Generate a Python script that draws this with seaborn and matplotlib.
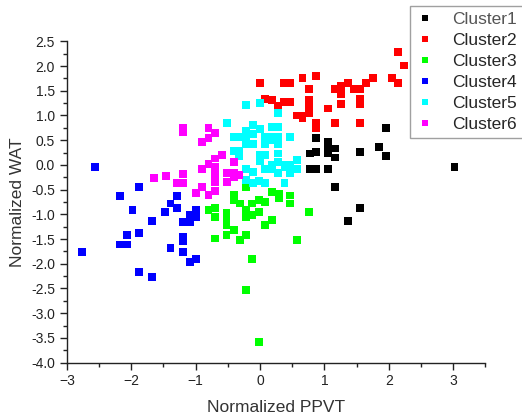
import matplotlib
matplotlib.use("Agg")
import matplotlib.pyplot as plt
from matplotlib.ticker import MultipleLocator
import pandas as pd
import seaborn as sns

# cluster points (Normalized PPVT, Normalized WAT)
cluster1_x = [0.87, 0.77, 0.87, 1.06, 1.06, 1.06, 1.16, 1.16, 0.77, 0.87, 1.06, 1.16,
              1.55, 1.85, 1.95, 1.95, 3.02, 1.55, 1.36]
cluster1_y = [0.55, 0.23, 0.26, 0.46, 0.36, 0.23, 0.33, 0.15, -0.09, -0.09, -0.09, -0.45,
              0.26, 0.36, 0.75, 0.18, -0.05, -0.88, -1.13]

cluster2_x = [0.0, 0.08, 0.18, 0.28, 0.37, 0.47, 0.37, 0.47, 0.66, 0.87, 0.76, 0.76,
              0.76, 0.76, 0.57, 0.66, 0.66, 0.87, 0.87, 1.06, 1.16, 1.16, 1.26, 1.26,
              1.26, 1.36, 1.46, 1.55, 1.55, 1.55, 1.55, 1.65, 1.75, 2.05, 2.14, 2.14, 2.24]
cluster2_y = [1.65, 1.34, 1.31, 1.19, 1.27, 1.27, 1.65, 1.65, 1.75, 1.80, 1.54, 1.31,
              1.19, 1.04, 1.00, 1.00, 0.94, 0.85, 0.75, 1.14, 0.85, 1.54, 1.60, 1.44,
              1.24, 1.65, 1.54, 1.54, 1.34, 1.24, 0.85, 1.65, 1.75, 1.75, 1.65, 2.28, 2.01]

cluster3_x = [-0.80, -0.70, -0.70, -0.70, -0.52, -0.52, -0.52, -0.52, -0.41, -0.41, -0.41,
              -0.31, -0.31, -0.22, -0.22, -0.22, -0.22, -0.12, -0.12, -0.12, -0.02, -0.02,
              -0.22, -0.02, 0.08, 0.08, 0.18, 0.18, 0.29, 0.29, 0.47, 0.47, 0.76, 0.57]
cluster3_y = [-0.92, -0.88, -1.05, -1.49, -0.98, -1.12, -1.22, -1.42, -0.61, -0.71, -1.32,
              -0.78, -1.52, -0.44, -0.92, -1.05, -1.42, -0.78, -1.02, -1.91, -0.71, -0.95,
              -2.53, -3.58, -0.75, -1.22, -0.55, -1.12, -0.58, -0.68, -0.62, -0.78, -0.96, -1.52]

cluster4_x = [-2.56, -1.88, -2.17, -1.98, -1.68, -2.07, -2.17, -2.07, -1.88, -2.76, -1.88,
              -1.68, -1.29, -1.39, -1.29, -1.48, -1.19, -1.09, -1.09, -0.99, -0.99, -1.19,
              -1.19, -1.39, -1.19, -1.09, -0.99]
cluster4_y = [-0.04, -0.44, -0.63, -0.92, -1.13, -1.42, -1.61, -1.61, -1.37, -1.76, -2.17,
              -2.27, -0.63, -0.78, -0.88, -0.96, -1.16, -1.16, -1.02, -0.92, -1.05, -1.45,
              -1.55, -1.68, -1.76, -1.96, -1.91]

cluster5_x = [-0.22, 0.0, 0.28, -0.51, -0.11, 0.0, 0.18, 0.28, -0.22, -0.41, -0.31, -0.22,
              -0.11, 0.08, 0.18, 0.28, 0.47, -0.22, -0.11, 0.08, 0.18, 0.28, -0.41, -0.32,
              -0.32, 0.0, 0.08, 0.28, 0.0, 0.28, 0.38, 0.47, 0.57, 0.18, -0.22, -0.11,
              0.08, 0.18, 0.28, 0.38, 0.47, 0.57, -0.22, -0.11, -0.02, 0.08, 0.38]
cluster5_y = [1.21, 1.25, 1.05, 0.85, 0.80, 0.73, 0.77, 0.77, 0.68, 0.57, 0.57, 0.57,
              0.62, 0.57, 0.57, 0.57, 0.57, 0.43, 0.43, 0.43, 0.50, 0.43, 0.28, 0.28,
              0.17, 0.20, 0.20, 0.23, 0.07, 0.05, 0.0, 0.0, 0.10, 0.0, -0.09, -0.15,
              -0.09, -0.09, -0.16, -0.05, -0.16, -0.09, -0.30, -0.36, -0.32, -0.36, -0.36]

cluster6_x = [-1.19, -1.19, -0.80, -0.70, -0.80, -0.90, -0.59, -0.70, -0.80, -0.90, -0.70,
              -0.70, -0.70, -0.51, -0.41, -0.32, -0.51, -0.41, -0.41, -1.65, -1.46, -1.19,
              -1.29, -1.19, -0.90, -0.99, -0.80, -0.70]
cluster6_y = [0.75, 0.67, 0.75, 0.65, 0.55, 0.46, 0.20, 0.13, 0.01, -0.09, -0.05,
              -0.18, -0.35, -0.17, -0.17, -0.21, -0.34, -0.24, 0.05, -0.27, -0.22, -0.19,
              -0.36, -0.36, -0.44, -0.57, -0.61, -0.53]

cluster_names = ["Cluster1", "Cluster2", "Cluster3", "Cluster4", "Cluster5", "Cluster6"]
cluster_colors = ["#000000", "#ff0000", "#00ff00", "#0000ff", "#00ffff", "#ff00ff"]

xs = [cluster1_x, cluster2_x, cluster3_x, cluster4_x, cluster5_x, cluster6_x]
ys = [cluster1_y, cluster2_y, cluster3_y, cluster4_y, cluster5_y, cluster6_y]

frames = []
for name, x, y in zip(cluster_names, xs, ys):
    frames.append(pd.DataFrame({"PPVT": x, "WAT": y, "cluster": name}))
df = pd.concat(frames, ignore_index=True)

sns.set_style("ticks")
plt.rcParams["font.family"] = ["Liberation Sans", "DejaVu Sans"]

fig = plt.figure(figsize=(5.22, 4.13), dpi=100)
ax = fig.add_axes([0.128, 0.122, 0.802, 0.778])

sns.scatterplot(data=df, x="PPVT", y="WAT", hue="cluster", hue_order=cluster_names,
                palette=dict(zip(cluster_names, cluster_colors)), marker="s", s=32,
                linewidth=0, ax=ax, legend=True)

ax.set_xlim(-3, 3.5)
ax.set_ylim(-4.0, 2.5)
ax.xaxis.set_major_locator(MultipleLocator(1))
ax.xaxis.set_minor_locator(MultipleLocator(0.5))
ax.yaxis.set_major_locator(MultipleLocator(0.5))
ax.yaxis.set_minor_locator(MultipleLocator(0.25))
ax.set_yticklabels([f"{v:.1f}" for v in ax.get_yticks()])
ax.tick_params(which="major", direction="out", length=5, width=1, labelsize=10, colors="#222222")
ax.tick_params(which="minor", direction="out", length=3, width=1, colors="#222222")
for side in ["top", "right"]:
    ax.spines[side].set_visible(False)
for side in ["left", "bottom"]:
    ax.spines[side].set_linewidth(1.0)
    ax.spines[side].set_color("#222222")

ax.set_xlabel("Normalized PPVT", fontsize=12.5, color="#333333", labelpad=8)
ax.set_ylabel("Normalized WAT", fontsize=12.5, color="#333333", labelpad=4)

handles, labels = ax.get_legend_handles_labels()
leg = ax.legend(handles, labels, loc="upper left", bbox_to_anchor=(0.785, 0.985),
                bbox_transform=fig.transFigure, borderaxespad=0, fontsize=12.5,
                frameon=True, fancybox=False, edgecolor="#888888", handlelength=1.0,
                handletextpad=1.1, borderpad=0.35, labelspacing=0.33, markerscale=0.8)
leg.get_frame().set_linewidth(1.0)
# first entry looks greyed out in the source image
leg.get_texts()[0].set_color("#555555")

fig.savefig("out.png", dpi=100)
